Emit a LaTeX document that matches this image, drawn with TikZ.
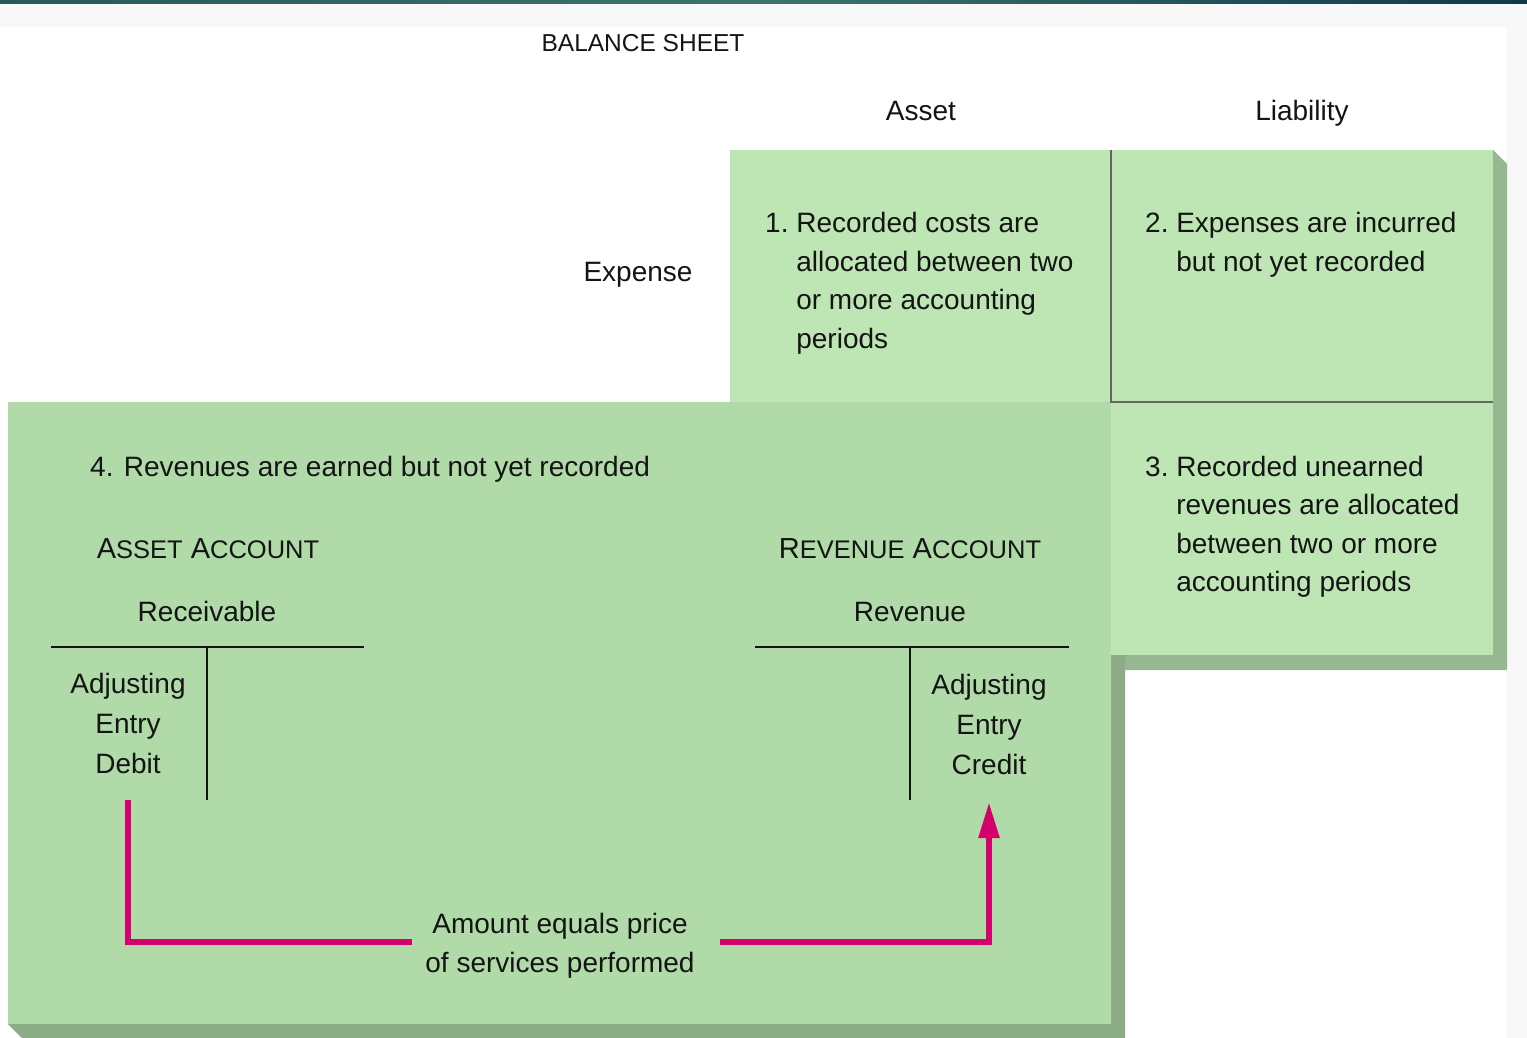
\documentclass[tikz,border=0pt]{standalone}
\usepackage{fontspec}
\setmainfont{Liberation Sans}
\usetikzlibrary{arrows.meta}
\definecolor{lightG}{RGB}{190,230,181}
\definecolor{darkG}{RGB}{176,218,168}
\definecolor{shadowA}{RGB}{150,184,145}
\definecolor{shadowB}{RGB}{140,172,134}
\definecolor{magentaL}{RGB}{212,0,110}
\definecolor{divgray}{RGB}{100,100,100}
\definecolor{ink}{RGB}{20,20,20}
\definecolor{barL}{RGB}{40,88,88}
\definecolor{barM}{RGB}{58,118,108}
\definecolor{barR}{RGB}{16,56,74}
\definecolor{bandgray}{RGB}{248,248,248}
\begin{document}
\begin{tikzpicture}[x=1pt,y=-1pt,
  txt/.style={inner sep=0pt, text=ink, font=\fontsize{28}{38.5}\selectfont},
  head/.style={txt, anchor=base},
  item/.style={txt, anchor=base west},
  stack/.style={txt, anchor=base},
  tline/.style={line width=2.4pt, ink},
  divline/.style={line width=2pt, divgray},
  pinkline/.style={line width=6pt, magentaL},
  sc/.style={txt, anchor=base, font=\fontsize{29}{38.5}\selectfont}
]
\useasboundingbox (0,0) rectangle (1527,1038);
% background
\fill[white] (0,0) rectangle (1527,1038);
\fill[bandgray] (0,4) rectangle (1527,27);
\fill[bandgray] (1506,27) rectangle (1527,1038);
\shade[left color=barL, right color=barR, middle color=barM] (0,0) rectangle (1527,4);
% shadows
\fill[shadowA] (1493,150) -- (1507,164) -- (1507,670) -- (1125,670) -- (1111,655) -- (1493,655) -- cycle;
\fill[shadowB] (1111,655) -- (1125,655) -- (1125,1038) -- (22,1038) -- (8,1024) -- (1111,1024) -- cycle;
% panels
\fill[lightG] (730,150) rectangle (1493,655);
\fill[darkG] (8,402) rectangle (1111,1024);
\draw[divline] (1111,150) -- (1111,402) -- (1493,402);
% headings
\node[head, font=\fontsize{24.5}{30}\selectfont] (bs) at (643,52) {BALANCE SHEET};
\node[head] (asset) at (921,121) {Asset};
\node[head] (liab) at (1302,121) {Liability};
\node[head] (expense) at (638,281) {Expense};
% quadrant texts
\node[item] (q1) at (765,233) {\begin{tabular}[t]{@{}l@{\ }l@{}}1.&Recorded costs are\\&allocated between two\\&or more accounting\\&periods\end{tabular}};
\node[item] (q2) at (1145,233) {\begin{tabular}[t]{@{}l@{\ }l@{}}2.&Expenses are incurred\\&but not yet recorded\end{tabular}};
\node[item] (q3) at (1145,476) {\begin{tabular}[t]{@{}l@{\ }l@{}}3.&Recorded unearned\\&revenues are allocated\\&between two or more\\&accounting periods\end{tabular}};
\node[item] (q4) at (90,476) {4. Revenues are earned but not yet recorded};
% accounts
\node[sc] (aacc) at (208,558) {A{\fontsize{25.5}{30}\selectfont SSET} A{\fontsize{25.5}{30}\selectfont CCOUNT}};
\node[sc] (racc) at (910,558) {R{\fontsize{25.5}{30}\selectfont EVENUE} A{\fontsize{25.5}{30}\selectfont CCOUNT}};
\node[head] (recv) at (207,621) {Receivable};
\node[head] (rev) at (910,621) {Revenue};
% T accounts
\draw[tline] (51,647) -- (364,647);
\draw[tline] (207,647) -- (207,800);
\draw[tline] (755,647) -- (1069,647);
\draw[tline] (910,647) -- (910,800);
\node[stack, font=\fontsize{28}{40}\selectfont] (debit) at (128,693) {\begin{tabular}[t]{@{}c@{}}Adjusting\\Entry\\Debit\end{tabular}};
\node[stack, font=\fontsize{28}{40}\selectfont] (credit) at (989,694) {\begin{tabular}[t]{@{}c@{}}Adjusting\\Entry\\Credit\end{tabular}};
\node[stack, inner xsep=13pt, font=\fontsize{28}{39}\selectfont] (amount) at (560,933) {\begin{tabular}[t]{@{}c@{}}Amount equals price\\of services performed\end{tabular}};
% connector
\draw[pinkline] ([yshift=-15pt]debit.south) |- ([yshift=2.7pt]amount.west);
\draw[pinkline, -{Triangle[length=36pt,width=20pt]}] ([xshift=12pt,yshift=2.7pt]amount.east) -| ([yshift=-16pt]credit.south);
\end{tikzpicture}
\end{document}
